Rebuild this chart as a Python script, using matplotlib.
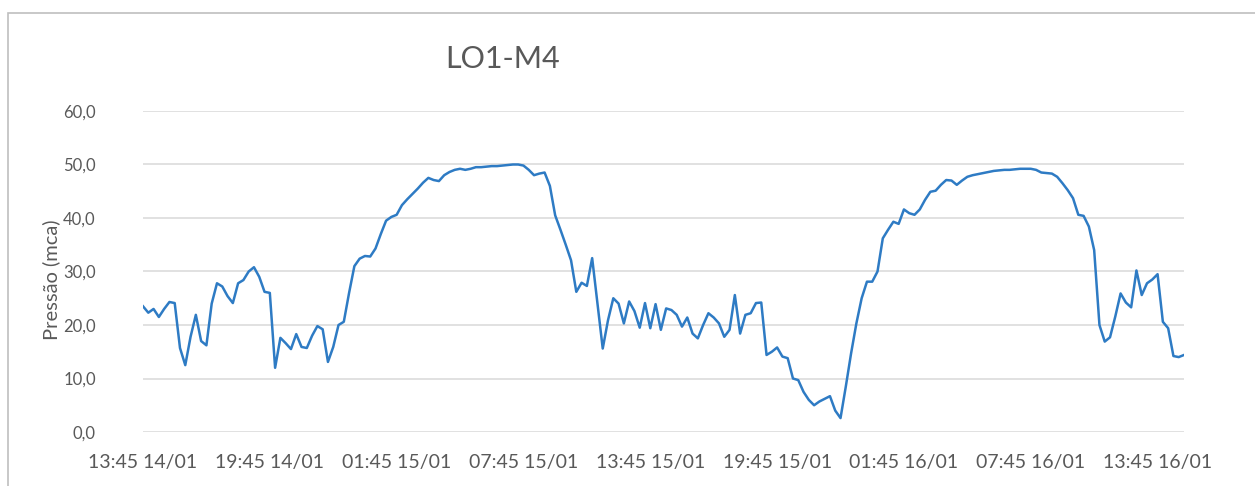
import matplotlib.pyplot as plt
from matplotlib.patches import Rectangle

# pressure readings every 15 min, 13:45 14/01 -> 15:00 16/01
pressao = [
    23.5, 22.3, 23.0, 21.5, 23.0, 24.3, 24.1, 15.7, 12.5, 17.8,
    21.9, 17.0, 16.2, 24.0, 27.8, 27.2, 25.4, 24.1, 27.8, 28.4,
    30.0, 30.8, 29.0, 26.2, 26.0, 12.0, 17.6, 16.6, 15.5, 18.3,
    15.9, 15.7, 18.0, 19.8, 19.2, 13.1, 15.9, 20.0, 20.6, 26.0,
    31.0, 32.4, 32.9, 32.8, 34.3, 37.0, 39.5, 40.2, 40.6, 42.4,
    43.5, 44.5, 45.5, 46.6, 47.5, 47.1, 46.9, 48.0, 48.6, 49.0,
    49.2, 49.0, 49.2, 49.5, 49.5, 49.6, 49.7, 49.7, 49.8, 49.9,
    50.0, 50.0, 49.8, 49.0, 48.0, 48.3, 48.5, 46.0, 40.5, 37.8,
    35.0, 32.1, 26.2, 27.9, 27.3, 32.5, 24.0, 15.6, 20.9, 25.0,
    24.0, 20.3, 24.4, 22.6, 19.5, 24.1, 19.4, 23.9, 19.1, 23.1,
    22.8, 21.9, 19.7, 21.4, 18.4, 17.5, 20.0, 22.2, 21.4, 20.3,
    17.8, 19.1, 25.6, 18.4, 21.9, 22.2, 24.1, 24.2, 14.4, 15.0,
    15.8, 14.1, 13.8, 10.0, 9.7, 7.5, 6.0, 5.0, 5.7, 6.2,
    6.7, 4.0, 2.6, 8.5, 14.7, 20.3, 25.0, 28.1, 28.1, 30.0,
    36.2, 37.8, 39.3, 38.9, 41.6, 40.9, 40.6, 41.6, 43.4, 44.9,
    45.1, 46.2, 47.1, 47.0, 46.2, 47.0, 47.7, 48.0, 48.2, 48.4,
    48.6, 48.8, 48.9, 49.0, 49.0, 49.1, 49.2, 49.2, 49.2, 49.0,
    48.5, 48.4, 48.3, 47.7, 46.5, 45.2, 43.7, 40.6, 40.4, 38.4,
    34.0, 20.0, 16.9, 17.7, 21.6, 25.9, 24.2, 23.3, 30.2, 25.6,
    27.8, 28.5, 29.5, 20.6, 19.4, 14.2, 14.0, 14.4,
]

tick_labels = ["13:45 14/01", "19:45 14/01", "01:45 15/01", "07:45 15/01",
               "13:45 15/01", "19:45 15/01", "01:45 16/01", "07:45 16/01",
               "13:45 16/01"]
tick_step = 24  # one label every 6 h

plt.rcParams['font.family'] = ['Lato', 'DejaVu Sans']
gray = '#595959'

W, H = 1255, 486
fig = plt.figure(figsize=(W / 100, H / 100), dpi=100)

# chart area frame (cut off at right and bottom)
fig.patches.append(Rectangle((8 / W, -0.1), 1.2, 1 - 13 / H + 0.1,
                             transform=fig.transFigure, fill=False,
                             edgecolor='#bfbfbf', lw=1.2))

ax = fig.add_axes([143 / W, 1 - 432 / H, (1184 - 143) / W, 321 / H])
ax.plot(range(len(pressao)), pressao, color='#2E7BC4', lw=1.8)

ax.set_xlim(0, len(pressao) - 1)
ax.set_ylim(0, 60)
ax.set_yticks(range(0, 61, 10))
ax.set_yticklabels([f"{v},0" for v in range(0, 61, 10)])
ax.set_xticks(range(0, tick_step * len(tick_labels), tick_step))
ax.set_xticklabels(tick_labels)

ax.grid(axis='y', color='#d9d9d9', lw=1.1)
ax.set_axisbelow(True)
for s in ax.spines.values():
    s.set_visible(False)
ax.tick_params(axis='both', length=0, colors=gray)
ax.tick_params(axis='y', pad=34, labelsize=12)
ax.tick_params(axis='x', pad=16, labelsize=14)

fig.text(51 / W, 1 - 280 / H, 'Pressão (mca)', rotation=90, ha='center',
         va='center', color=gray, fontsize=14.5)
fig.text(503 / W, 1 - 59 / H, 'LO1-M4', ha='center', va='center',
         color=gray, fontsize=22)

fig.savefig('out.png', dpi=100)
